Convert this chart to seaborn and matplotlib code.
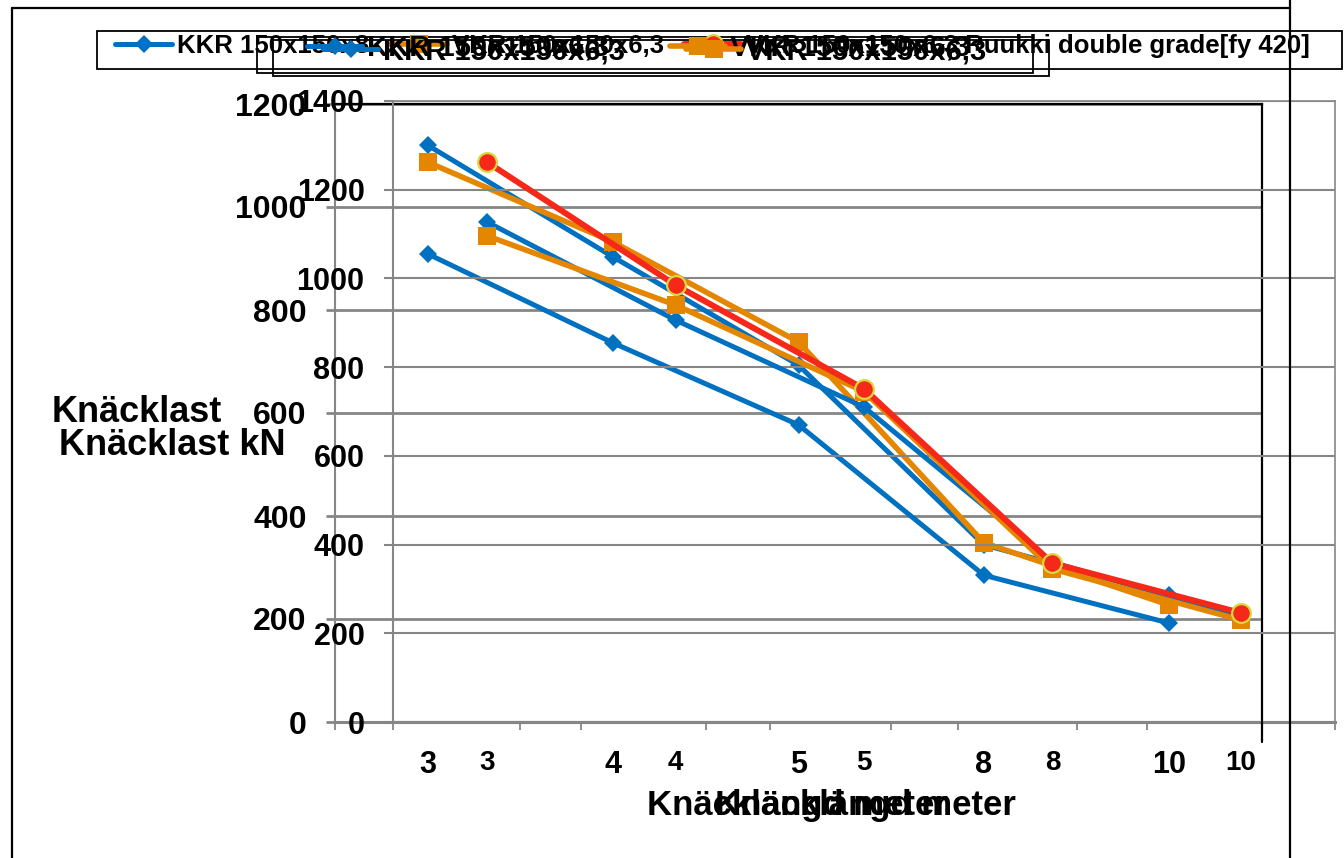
import numpy as np
import matplotlib
matplotlib.use("Agg")
import matplotlib.pyplot as plt
from matplotlib.lines import Line2D
from matplotlib.patches import Rectangle
import seaborn as sns

# ---------------- data ----------------
categories = ["3", "4", "5", "8", "10"]

# front chart (A) – legend with three entries
a_kkr_8 = [1127, 906, 710, 360, 236]
a_vkr_63 = [1096, 940, 745, 345, 230]
a_vkr_ruukki = [1262, 985, 751, 358, 246]

# back chart (B)
b_kkr_8 = [1120, 903, 693, 344, 247]
b_kkr_63 = [909, 736, 577, 285, 192]
b_vkr_63 = [1087, 932, 738, 348, 227]

a_labels = ["KKR 150x150x8", "VKR 150x150x6,3",
            "VKR 150x150x6,3 Ruukki double grade[fy 420]"]
b_labels = ["KKR 150x150x6,3", "VKR 150x150x6,3"]
y_title_a = "Knäcklast kN"
y_title_b = "Knäcklast"
x_title = "Knäcklängd meter"

# ---------------- style ----------------
W, H = 1344, 858
sns.set_theme(style="white")
plt.rcParams["font.family"] = ["Liberation Sans", "DejaVu Sans"]
plt.rcParams["font.weight"] = "bold"
plt.rcParams["text.color"] = "black"
plt.rcParams["axes.labelcolor"] = "black"
plt.rcParams["xtick.color"] = "black"
plt.rcParams["ytick.color"] = "black"

BLUE = "#0070C0"
ORANGE = "#E48600"
RED = "#F5281A"
YEL = "#D8D840"
GRID = "#868686"

fig = plt.figure(figsize=(W / 100, H / 100), dpi=100)
fig.patch.set_facecolor("white")


def rect(l, t, r, b):
    return [l / W, 1 - b / H, (r - l) / W, (b - t) / H]


axB = fig.add_axes(rect(335, 104, 1262, 722))
axA = fig.add_axes(rect(393, 101, 1335, 722))
axB.set_facecolor("white")
axA.set_facecolor("none")

pos = np.arange(len(categories))

styles = {
    "blue": dict(color=BLUE, lw=3.6, marker="D", ms=9.5, mfc=BLUE, mec=BLUE, mew=0),
    "orange": dict(color=ORANGE, lw=4.0, marker="s", ms=13.5, mfc=ORANGE, mec=ORANGE, mew=0),
    "red": dict(color=RED, lw=4.3, marker="o", ms=13.5, mfc=RED, mec=YEL, mew=1.6),
}


def draw(ax, vals, key, z):
    st = styles[key]
    sns.lineplot(x=pos, y=vals, ax=ax, color=st["color"], linewidth=st["lw"],
                 marker=st["marker"], markersize=st["ms"],
                 markerfacecolor=st["mfc"], markeredgecolor=st["mec"],
                 markeredgewidth=st["mew"], zorder=z)


draw(axB, b_kkr_63, "blue", 3)
draw(axB, b_kkr_8, "blue", 4)
draw(axB, b_vkr_63, "orange", 5)

draw(axA, a_kkr_8, "blue", 3)
draw(axA, a_vkr_63, "orange", 4)
draw(axA, a_vkr_ruukki, "red", 5)


def style_axis(ax, ymax, grid_lw, xlab_size, ylab_size, top_col, right_col, top_lw):
    ax.set_xlim(-0.5, len(categories) - 0.5)
    ax.set_ylim(0, ymax)
    ax.set_xticks(np.arange(-0.5, len(categories)))
    ax.set_xticklabels([])
    ax.set_xticks(pos, minor=True)
    ax.set_xticklabels(categories, minor=True)
    ax.set_yticks(np.arange(0, ymax + 1, 200))
    ax.tick_params(axis="x", which="major", bottom=True, length=6, width=1.3,
                   color=GRID, direction="out")
    ax.tick_params(axis="x", which="minor", bottom=True, length=0, pad=20,
                   labelsize=xlab_size, labelcolor="black")
    ax.tick_params(axis="y", left=True, length=6.5, width=grid_lw, color=GRID,
                   direction="out", pad=14, labelsize=ylab_size, labelcolor="black")
    for t in ax.get_yticklabels() + ax.get_xticklabels(minor=True):
        t.set_fontweight("bold")
    ax.grid(axis="y", color=GRID, lw=grid_lw)
    ax.grid(axis="x", visible=False)
    ax.set_axisbelow(True)
    ax.set_xlabel("")
    ax.set_ylabel("")
    ax.spines["left"].set_color(GRID)
    ax.spines["left"].set_linewidth(1.5)
    ax.spines["bottom"].set_color(GRID)
    ax.spines["bottom"].set_linewidth(2.2)
    ax.spines["top"].set_color(top_col)
    ax.spines["top"].set_linewidth(top_lw)
    ax.spines["right"].set_color(right_col)
    ax.spines["right"].set_linewidth(top_lw)


style_axis(axB, 1200, 2.0, 22, 23, "black", "black", 1.6)
style_axis(axA, 1400, 1.5, 20, 22, GRID, GRID, 1.2)

# ---------------- axis titles ----------------
fig.text(137 / W, 1 - 413 / H, y_title_b, ha="center", va="center",
         fontsize=26, fontweight="bold", color="black")
fig.text(172 / W, 1 - 445 / H, y_title_a, ha="center", va="center",
         fontsize=26, fontweight="bold", color="black")
fig.text(797 / W, 1 - 806 / H, x_title, ha="center", va="center",
         fontsize=25, fontweight="bold", color="black")
fig.text(865 / W, 1 - 806 / H, x_title, ha="center", va="center",
         fontsize=25, fontweight="bold", color="black")

# ---------------- legends ----------------


def handle(key):
    st = styles[key]
    return Line2D([], [], color=st["color"], lw=st["lw"], marker=st["marker"],
                  ms=st["ms"], mfc=st["mfc"], mec=st["mec"], mew=st["mew"])


def entry(h, label, x, y, fs, hl_px, tp_px=5):
    fpx = fs * 100 / 72
    fig.legend([h], [label], loc="center left",
               bbox_to_anchor=(x / W, 1 - y / H), frameon=False,
               borderpad=0, borderaxespad=0, handlelength=hl_px / fpx,
               handletextpad=tp_px / fpx, labelcolor="black",
               prop={"size": fs, "weight": "bold"})


def box(l, t, r, b):
    fig.add_artist(Rectangle((l / W, 1 - b / H), (r - l) / W, (b - t) / H,
                             transform=fig.transFigure, fill=False,
                             edgecolor="black", lw=1.3))


# legend of front chart
box(97, 31, 1342, 69)
entry(handle("blue"), a_labels[0], 115, 46, 18.5, 57)
entry(handle("orange"), a_labels[1], 390, 46, 18.5, 57)
entry(handle("red"), a_labels[2], 684, 46, 18.5, 57)

# legend of back chart (drawn twice, slightly offset)
for dx, dy in [(0, 0), (16, 3)]:
    box(257 + dx, 37 + dy, 1033 + dx, 73 + dy)
    entry(handle("blue"), b_labels[0], 307 + dx, 48 + dy, 21, 55)
    entry(handle("orange"), b_labels[1], 670 + dx, 48 + dy, 21, 55)

# ---------------- chart frames ----------------


def fline(x0, y0, x1, y1, lw=1.6, color="black"):
    fig.add_artist(Line2D([x0 / W, x1 / W], [1 - y0 / H, 1 - y1 / H],
                          transform=fig.transFigure, color=color, lw=lw))


fline(12, 8, 12, 858)
fline(12, 8, 1290, 8)
fline(1290, 0, 1290, 858)
fline(1262, 722, 1262, 742)

fig.savefig("out.png", dpi=100, facecolor="white")
